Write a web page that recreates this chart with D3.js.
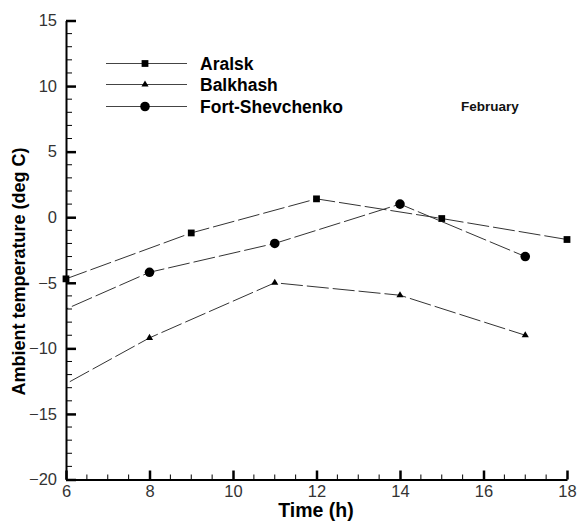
<!DOCTYPE html>
<html><head><meta charset="utf-8">
<script src="https://cdn.jsdelivr.net/npm/d3@7"></script>
<style>
html,body{margin:0;padding:0;background:#fff;}
svg{display:block;font-family:Arial,"Liberation Sans",Helvetica,sans-serif;}
</style></head>
<body>
<svg id="chart" width="580" height="521"></svg>
<script>
// ---- data ----
const seriesNames = ["Aralsk", "Balkhash", "Fort-Shevchenko"];
const aralskHours = [6, 9, 12, 15, 18];
const aralskTemps = [-4.7, -1.2, 1.4, -0.1, -1.7];
const balkhashHours = [5, 8, 11, 14, 17];
const balkhashTemps = [-14.45, -9.2, -5.0, -5.95, -9.0];
const fortHours = [5, 8, 11, 14, 17];
const fortTemps = [-8.4, -4.2, -2.0, 1.0, -3.0];
const xTicks = [6, 8, 10, 12, 14, 16, 18];
const yTicks = [-20, -15, -10, -5, 0, 5, 10, 15];
const monthLabel = "February";

const series = [
  {name: seriesNames[0], hours: aralskHours, temps: aralskTemps, sym: d3.symbolSquare, size: 46},
  {name: seriesNames[1], hours: balkhashHours, temps: balkhashTemps, sym: d3.symbolTriangle, size: 22},
  {name: seriesNames[2], hours: fortHours, temps: fortTemps, sym: d3.symbolCircle, size: 72}
];

const svg = d3.select("#chart");
const x = d3.scaleLinear().domain([6, 18]).range([66, 567]);
const y = d3.scaleLinear().domain([-20, 15]).range([479.5, 20.5]);

svg.append("defs").append("clipPath").attr("id", "plotclip")
  .append("rect").attr("x", x(6)).attr("y", y(15)).attr("width", x(18) - x(6)).attr("height", y(-20) - y(15));

// lines
const line = d3.line().x(d => x(d[0])).y(d => y(d[1]));
const gLines = svg.append("g").attr("clip-path", "url(#plotclip)");
series.forEach(s => {
  const pts = s.hours.map((h, i) => [h, s.temps[i]]);
  gLines.append("path").attr("d", line(pts))
    .attr("fill", "none").attr("stroke", "#333").attr("stroke-width", 1)
    .attr("stroke-dasharray", "22,4");
});

// axes
const fmt = d3.format("d");
const xAxis = svg.append("g").attr("transform", `translate(0,${y(-20)})`)
  .call(d3.axisBottom(x).tickValues(xTicks).tickFormat(fmt).tickSizeInner(-9).tickSizeOuter(0).tickPadding(6));
const yAxis = svg.append("g").attr("transform", `translate(${x(6)},0)`)
  .call(d3.axisLeft(y).tickValues(yTicks).tickFormat(fmt).tickSizeInner(-10).tickSizeOuter(0).tickPadding(9));
[xAxis, yAxis].forEach(g => {
  g.select(".domain").attr("stroke", "#000").attr("stroke-width", 2);
  g.selectAll(".tick line").attr("stroke", "#000").attr("stroke-width", 2.5);
  g.selectAll(".tick text").attr("font-size", 16.5).attr("fill", "#333")
    .attr("font-family", "Arial, 'Liberation Sans', sans-serif");
});

// minor ticks
const xMinor = d3.range(6, 18.01, 0.5).filter(v => !xTicks.includes(v));
svg.append("g").selectAll("line").data(xMinor).join("line")
  .attr("x1", d => x(d)).attr("x2", d => x(d))
  .attr("y1", y(-20)).attr("y2", y(-20) - 5)
  .attr("stroke", "#000").attr("stroke-width", 1);
const yMinor = d3.range(-20, 15.01, 1).filter(v => !yTicks.includes(v));
svg.append("g").selectAll("line").data(yMinor).join("line")
  .attr("x1", x(6)).attr("x2", x(6) + 6)
  .attr("y1", d => y(d)).attr("y2", d => y(d))
  .attr("stroke", "#000").attr("stroke-width", 1);

// markers
series.forEach(s => {
  const pts = s.hours.map((h, i) => [h, s.temps[i]]).filter(d => d[0] >= 6 && d[0] <= 18);
  svg.append("g").selectAll("path").data(pts).join("path")
    .attr("transform", d => `translate(${x(d[0])},${y(d[1])})`)
    .attr("d", d3.symbol().type(s.sym).size(s.size)).attr("fill", "#000");
});

// legend
const legY = [63.5, 84.5, 106.5];
series.forEach((s, i) => {
  const g = svg.append("g").attr("transform", `translate(0,${legY[i]})`);
  g.append("line").attr("x1", 106).attr("x2", 187).attr("y1", 0).attr("y2", 0)
    .attr("stroke", "#444").attr("stroke-width", 1);
  g.append("path").attr("transform", "translate(145,0)")
    .attr("d", d3.symbol().type(s.sym).size(s.size)).attr("fill", "#000");
  g.append("text").attr("x", 200).attr("y", 6).attr("font-size", 17.5).attr("font-weight", "bold")
    .attr("fill", "#000").text(s.name);
});

svg.append("text").attr("x", 461).attr("y", 111).attr("font-size", 13.5).attr("font-weight", "bold")
  .attr("fill", "#111").text(monthLabel);

// axis titles
svg.append("text").attr("x", 316).attr("y", 517).attr("text-anchor", "middle")
  .attr("font-size", 19.5).attr("font-weight", "bold").text("Time (h)");
svg.append("text").attr("transform", "translate(25,271.5) rotate(-90)").attr("text-anchor", "middle")
  .attr("font-size", 18).attr("font-weight", "bold").text("Ambient temperature (deg C)");
</script>
</body></html>
